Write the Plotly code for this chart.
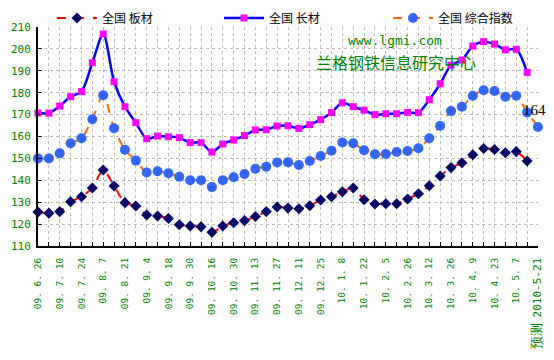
import plotly.graph_objects as go

dates = ["09. 6. 26", "09. 7. 3", "09. 7. 10", "09. 7. 17", "09. 7. 24", "09. 7. 31",
         "09. 8. 7", "09. 8. 14", "09. 8. 21", "09. 8. 28", "09. 9. 4", "09. 9. 11",
         "09. 9. 18", "09. 9. 25", "09. 9. 30", "09. 10. 9", "09. 10. 16", "09. 10. 23",
         "09. 10. 30", "09. 11. 6", "09. 11. 13", "09. 11. 20", "09. 11. 27", "09. 12. 4",
         "09. 12. 11", "09. 12. 18", "09. 12. 25", "10. 1. 1", "10. 1. 8", "10. 1. 15",
         "10. 1. 22", "10. 1. 29", "10. 2. 5", "10. 2. 19", "10. 2. 26", "10. 3. 5",
         "10. 3. 12", "10. 3. 19", "10. 3. 26", "10. 4. 2", "10. 4. 9", "10. 4. 16",
         "10. 4. 23", "10. 4. 30", "10. 5. 7", "10. 5. 14",
         "<span style='font-size:13px'>预测</span> <span style='font-size:11px'>2010-5-21</span>"]

plate = [125.5, 125.0, 125.7, 130.2, 132.5, 136.5, 144.7, 137.4, 129.8, 128.3,
         124.2, 123.7, 122.6, 119.7, 119.1, 118.8, 116.3, 119.1, 120.6, 121.6,
         123.5, 125.7, 127.8, 127.3, 127.0, 128.4, 131.0, 132.5, 134.8, 136.5,
         131.1, 129.2, 129.3, 129.3, 131.5, 133.9, 137.5, 142.0, 145.8, 148.0,
         151.7, 154.5, 154.1, 152.6, 153.1, 148.8, None]

long_ = [170.7, 170.7, 173.9, 178.2, 180.5, 193.7, 206.8, 185.0, 173.6, 166.3,
         159.0, 160.2, 159.9, 159.5, 157.2, 157.2, 152.9, 156.6, 158.4, 160.4,
         163.0, 163.1, 164.8, 164.9, 163.7, 165.4, 167.7, 170.9, 175.4, 173.6,
         172.0, 170.0, 170.4, 170.4, 171.0, 170.9, 176.8, 184.1, 192.6, 194.9,
         201.3, 203.3, 202.2, 199.6, 199.8, 189.3, None]

composite = [150.0, 150.0, 152.3, 156.9, 159.2, 167.9, 178.8, 163.8, 154.0, 149.0,
             143.6, 144.1, 143.2, 141.6, 140.0, 140.0, 136.9, 140.0, 141.4, 142.9,
             145.3, 146.2, 148.1, 148.2, 147.0, 148.8, 151.1, 153.5, 157.3, 156.9,
             153.7, 151.9, 152.0, 152.9, 153.4, 154.6, 159.2, 164.9, 171.6, 173.6,
             178.6, 181.1, 180.8, 178.2, 178.6, 171.0, 164.3]

names = ["全国 板材", "全国 长材", "全国 综合指数"]
forecast_label = "164"
ticktext = [d if i % 2 == 0 else "" for i, d in enumerate(dates)]

fig = go.Figure()
fig.add_trace(go.Scatter(
    x=dates, y=plate, name=names[0], mode="lines+markers", legend="legend",
    line=dict(color="#FF0000", width=2, dash="dash", shape="spline", smoothing=0.8),
    marker=dict(symbol="diamond", size=8.5, color="#000066"), cliponaxis=False))
fig.add_trace(go.Scatter(
    x=dates, y=long_, name=names[1], mode="lines+markers", legend="legend2",
    line=dict(color="#0000FF", width=2.5, shape="spline", smoothing=0.8),
    marker=dict(symbol="square", size=7, color="#FF00FF"), cliponaxis=False))
fig.add_trace(go.Scatter(
    x=dates, y=composite, name=names[2], mode="lines+markers", legend="legend3",
    line=dict(color="#FF6600", width=2, dash="dash", shape="spline", smoothing=0.8),
    marker=dict(symbol="circle", size=10, color="#3366FF"), cliponaxis=False))

fig.add_annotation(x=dates[-1], y=composite[-1], text=forecast_label, showarrow=False,
                   xshift=-4, yshift=17, xanchor="center", yanchor="middle",
                   font=dict(family="Liberation Serif", size=15, color="#000000"))
fig.add_annotation(xref="paper", yref="paper", x=0.714, y=0.937, text="www.lgmi.com",
                   xanchor="center", yanchor="middle", showarrow=False,
                   font=dict(family="DejaVu Sans Mono", size=13, color="#008000"))
fig.add_annotation(xref="paper", yref="paper", x=0.716, y=0.84, text="兰格钢铁信息研究中心",
                   xanchor="center", yanchor="middle", showarrow=False,
                   font=dict(family="Noto Sans CJK SC", size=16, color="#008000"))

legend_style = dict(orientation="h", xanchor="left", y=1.041, yanchor="middle",
                    itemwidth=40, bgcolor="rgba(0,0,0,0)",
                    font=dict(family="Noto Sans CJK SC", size=12, color="#000000"))

# page body has an 8px default margin, so the figure is sized/offset to compensate
fig.update_layout(
    width=546, height=352,
    margin=dict(l=30, r=16, t=19, b=114, autoexpand=False),
    paper_bgcolor="white", plot_bgcolor="white",
    font=dict(family="Noto Sans CJK SC", size=12, color="#000000"),
    showlegend=True,
    legend=dict(x=0.028, **legend_style),
    legend2=dict(x=0.362, **legend_style),
    legend3=dict(x=0.70, **legend_style),
)
fig.update_xaxes(
    type="category", range=[0, 46], tickmode="array", tickvals=dates, ticktext=ticktext,
    tickangle=-90, tickfont=dict(family="DejaVu Sans Mono", size=9.5, color="#008000"),
    showgrid=True, gridcolor="#BBBBBB", griddash="dot", gridwidth=1,
    showline=True, linecolor="#000000", linewidth=2,
    ticks="inside", ticklen=4, tickcolor="#000000", tickwidth=1,
    zeroline=False, ticklabelstandoff=6)
fig.update_yaxes(
    range=[110, 210], dtick=10, tick0=110,
    tickfont=dict(family="DejaVu Sans Mono", size=11, color="#008000"),
    showgrid=True, gridcolor="#BBBBBB", griddash="dot", gridwidth=1,
    showline=True, linecolor="#000000", linewidth=2,
    ticks="inside", ticklen=4, tickcolor="#000000", tickwidth=1,
    zeroline=False, ticklabelstandoff=3)

fig.write_html("out.html")
